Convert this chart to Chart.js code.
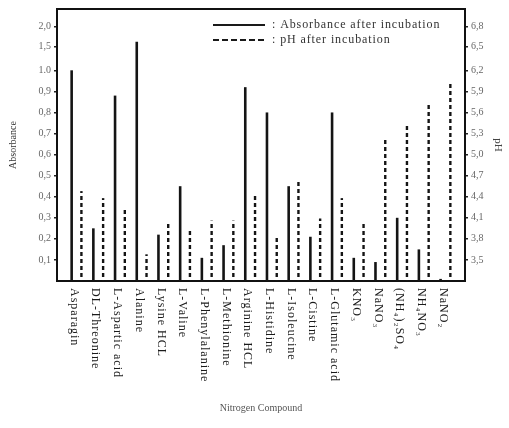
<!DOCTYPE html>
<html>
<head>
<meta charset="utf-8">
<script src="https://cdn.jsdelivr.net/npm/chart.js@4.4.1/dist/chart.umd.min.js"></script>
<style>
  html, body { margin: 0; padding: 0; background: #ffffff; }
  #wrap { width: 509px; height: 428px; }
</style>
</head>
<body>
<div id="wrap"><canvas id="c" width="509" height="428"></canvas></div>
<script>
// ---------------- data ----------------
const categories = ['Asparagin', 'DL-Threonine', 'L-Aspartic acid', 'Alanine', 'Lysine HCL',
  'L-Valine', 'L-Phenylalanine', 'L-Methionine', 'Arginine HCL', 'L-Histidine',
  'L-Isoleucine', 'L-Cistine', 'L-Glutamic acid', 'KNO₃', 'NaNO₃', '(NH₄)₂SO₄', 'NH₄NO₃', 'NaNO₂'];
const absorbance = [1.00, 0.25, 0.88, 1.62, 0.22, 0.45, 0.11, 0.17, 0.92, 0.80,
  0.45, 0.21, 0.80, 0.11, 0.09, 0.30, 0.15, 0.01];
const phValues = [4.48, 4.38, 4.24, 3.58, 4.03, 3.95, 4.06, 4.06, 4.45, 3.82,
  4.62, 4.09, 4.38, 4.03, 5.23, 5.43, 5.71, 6.03];

const absTicks = [0.1, 0.2, 0.3, 0.4, 0.5, 0.6, 0.7, 0.8, 0.9, 1.0, 1.5, 2.0];
const absTickLabels = ['0,1', '0,2', '0,3', '0,4', '0,5', '0,6', '0,7', '0,8', '0,9', '1.0', '1,5', '2,0'];
const phTicks = [3.5, 3.8, 4.1, 4.4, 4.7, 5.0, 5.3, 5.6, 5.9, 6.2, 6.5, 6.8];
const phTickLabels = ['3,5', '3,8', '4,1', '4,4', '4,7', '5,0', '5,3', '5,6', '5,9', '6,2', '6,5', '6,8'];

// broken (compressed) axes: [value, axis position]
const absBreaks = [[0, 0], [1.0, 1.0], [1.5, 1.113], [2.0, 1.207]];
const phBreaks = [[3.2, 0], [6.2, 1.0], [6.5, 1.113], [6.8, 1.207]];

const titleX = 'Nitrogen Compound';
const titleAbs = 'Absorbance';
const titlePh = 'pH';
const legendAbs = ': Absorbance after incubation';
const legendPh = ': pH after incubation';

// ---------------- custom broken linear scale ----------------
const BREAKS = { y: absBreaks, y2: phBreaks };
function interp(pts, x, a, b) {
  let i = 1;
  while (i < pts.length - 1 && x > pts[i][a]) i++;
  const p0 = pts[i - 1], p1 = pts[i];
  return p0[b] + (x - p0[a]) * (p1[b] - p0[b]) / (p1[a] - p0[a]);
}
class BrokenScale extends Chart.LinearScale {
  getPixelForValue(v) {
    if (v === null || v === undefined || isNaN(v)) return NaN;
    return super.getPixelForValue(interp(BREAKS[this.id], v, 0, 1));
  }
  getValueForPixel(p) {
    return interp(BREAKS[this.id], super.getValueForPixel(p), 1, 0);
  }
}
BrokenScale.id = 'broken';
BrokenScale.defaults = Chart.LinearScale.defaults;
Chart.register(BrokenScale);

const canvas = document.getElementById('c');
const ctx0 = canvas.getContext('2d');

function makeDash() {
  const c = document.createElement('canvas');
  c.width = 4; c.height = 7;
  const g = c.getContext('2d');
  g.fillStyle = '#141414';
  g.fillRect(0, 0, 4, 4);
  return ctx0.createPattern(c, 'repeat');
}
const dashFill = makeDash();

const serif = '"Liberation Serif", "DejaVu Serif", serif';

// x tick labels (rotated clockwise, reading downwards) drawn at the x scale positions
const xLabelPlugin = {
  id: 'xLabels',
  afterDraw(chart) {
    const sx = chart.scales.x, ctx = chart.ctx;
    ctx.save();
    ctx.font = '12px ' + serif;
    try { ctx.letterSpacing = '1px'; } catch (e) {}
    ctx.fillStyle = '#1a1a1a';
    ctx.textAlign = 'left';
    ctx.textBaseline = 'middle';
    categories.forEach((lab, i) => {
      const x = sx.getPixelForValue(i - 0.12);
      ctx.save();
      ctx.translate(x, chart.chartArea.bottom + 7);
      ctx.rotate(Math.PI / 2);
      ctx.fillText(lab, 0, 0);
      ctx.restore();
    });
    ctx.restore();
  }
};

// legend inside the frame (top right)
const legendPlugin = {
  id: 'innerLegend',
  afterDraw(chart) {
    const ctx = chart.ctx, a = chart.chartArea;
    const x0 = a.left + 156, x1 = a.left + 208, tx = a.left + 215;
    const rows = [{ y: a.top + 16, text: legendAbs, dash: [] }, { y: a.top + 31, text: legendPh, dash: [6, 3] }];
    ctx.save();
    rows.forEach(r => {
      ctx.beginPath();
      ctx.setLineDash(r.dash);
      ctx.lineWidth = 2;
      ctx.strokeStyle = '#1a1a1a';
      ctx.moveTo(x0, r.y); ctx.lineTo(x1, r.y);
      ctx.stroke();
      ctx.setLineDash([]);
      ctx.font = '12px ' + serif;
      try { ctx.letterSpacing = '0.9px'; } catch (e) {}
      ctx.fillStyle = '#333';
      ctx.textAlign = 'left';
      ctx.textBaseline = 'middle';
      ctx.fillText(r.text, tx, r.y);
    });
    ctx.restore();
  }
};

const tickFont = { family: serif, size: 10 };

new Chart(canvas, {
  type: 'bar',
  data: {
    datasets: [
      {
        label: 'Absorbance after incubation',
        data: absorbance.map((v, i) => ({ x: i, y: v })),
        xAxisID: 'x', yAxisID: 'y',
        backgroundColor: '#141414',
        borderWidth: 0,
        categoryPercentage: 0.9, barPercentage: 1, maxBarThickness: 2.6
      },
      {
        label: 'pH after incubation',
        data: phValues.map((v, i) => ({ x: i, y: v })),
        xAxisID: 'x', yAxisID: 'y2',
        base: 3.2,
        backgroundColor: dashFill,
        borderWidth: 0,
        categoryPercentage: 0.9, barPercentage: 1, maxBarThickness: 2.4
      }
    ]
  },
  options: {
    responsive: false,
    animation: false,
    devicePixelRatio: 1,
    layout: { padding: { top: 6, left: 0, right: 0, bottom: 0 } },
    plugins: { legend: { display: false }, tooltip: { enabled: false } },
    scales: {
      x: {
        type: 'linear', position: 'bottom', min: -0.9, max: 17.9, offset: false,
        ticks: { display: false },
        grid: { display: false },
        border: { display: true, color: '#111', width: 2 },
        title: { display: true, text: titleX, color: '#555', font: { family: serif, size: 10 }, padding: { top: 0, bottom: 14 } },
        afterFit: s => { s.height = 147; }
      },
      xTop: {
        type: 'linear', position: 'top', min: -0.9, max: 17.9,
        ticks: { display: false },
        grid: { display: false },
        border: { display: true, color: '#111', width: 2 },
        afterFit: s => { s.height = 0; }
      },
      y: {
        type: 'broken', position: 'left', min: 0, max: 1.291, bounds: 'data',
        afterBuildTicks: s => { s.ticks = absTicks.map(v => ({ value: v })); },
        ticks: { autoSkip: false, color: '#666', font: tickFont, padding: 3,
          callback: (v, i) => absTickLabels[i] },
        grid: { display: true, drawOnChartArea: false, tickLength: 3, color: '#222', lineWidth: 1.5 },
        border: { display: true, color: '#111', width: 2 },
        title: { display: true, text: titleAbs, color: '#333', font: { family: serif, size: 10 }, padding: { top: 7, bottom: 0 } },
        afterFit: s => { s.width = 57; }
      },
      y2: {
        type: 'broken', position: 'right', min: 0, max: 1.291, bounds: 'data',
        afterBuildTicks: s => { s.ticks = phTicks.map(v => ({ value: v })); },
        ticks: { autoSkip: false, color: '#666', font: tickFont, padding: 3,
          callback: (v, i) => phTickLabels[i] },
        grid: { display: true, drawOnChartArea: false, tickLength: 3, color: '#222', lineWidth: 1.5 },
        border: { display: true, color: '#111', width: 2 },
        title: { display: true, text: titlePh, color: '#444', font: { family: serif, size: 11 }, padding: { top: 5, bottom: 0 } },
        afterFit: s => { s.width = 44; }
      }
    }
  },
  plugins: [xLabelPlugin, legendPlugin]
});
</script>
</body>
</html>
